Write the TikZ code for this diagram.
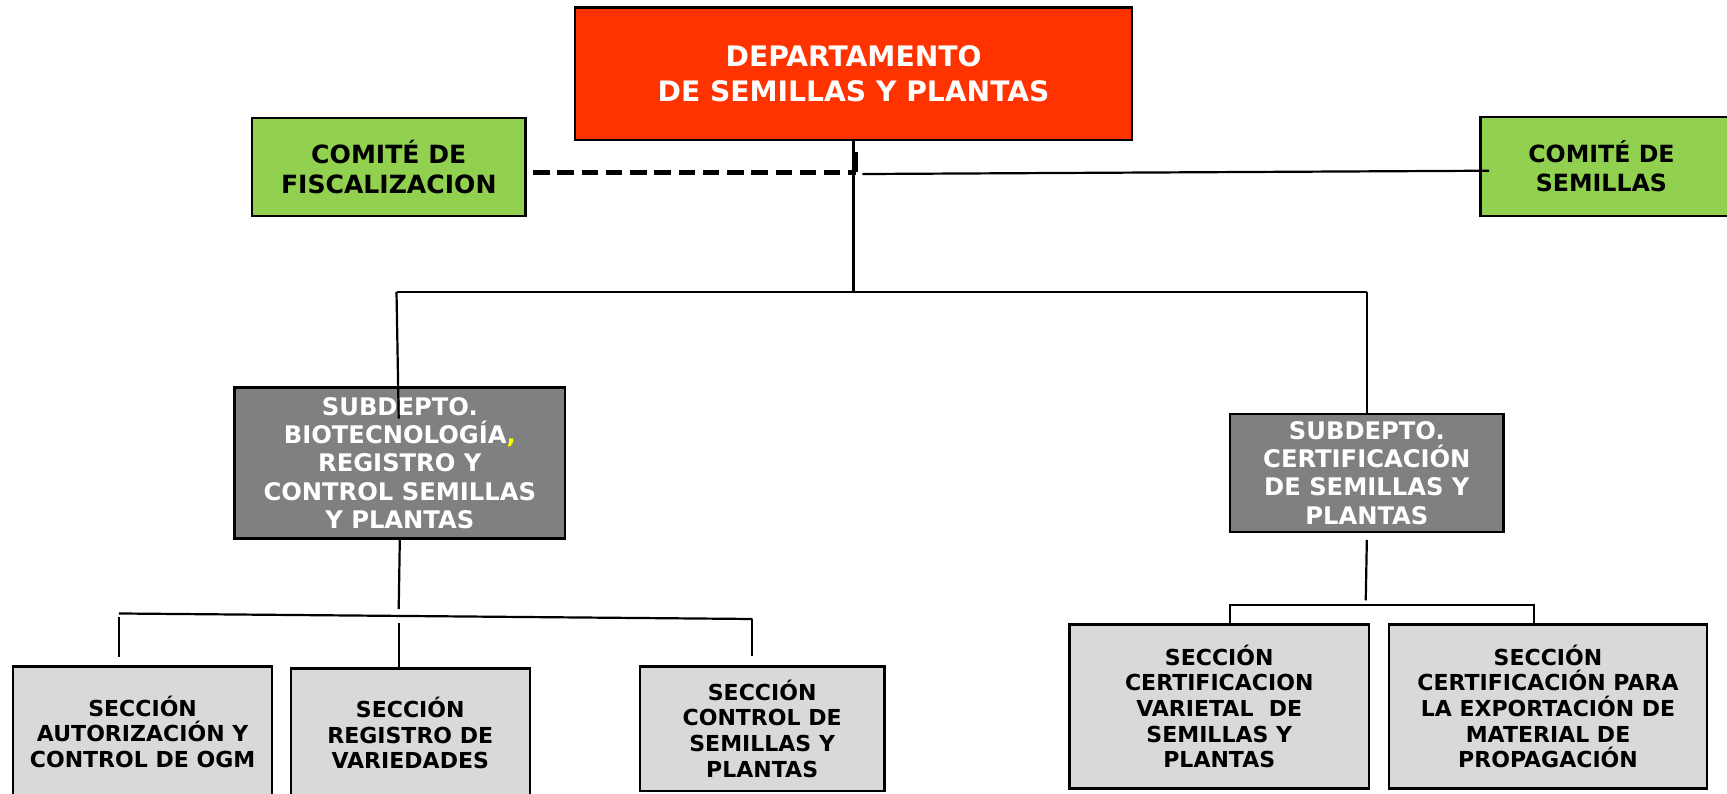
\documentclass[tikz,border=0pt]{standalone}
\usepackage{fontspec}
\setmainfont{DejaVu Sans}
\definecolor{depred}{HTML}{FF3300}
\definecolor{comgreen}{HTML}{92D050}
\definecolor{subgray}{HTML}{808080}
\definecolor{secgray}{HTML}{D9D9D9}
\definecolor{commayellow}{HTML}{FFFF00}
\tikzset{
  boxbase/.style={draw=black, line width=2.2bp, inner sep=0pt, align=center},
  depbox/.style={boxbase, fill=depred, text=white, font=\bfseries\fontsize{25.6bp}{31bp}\selectfont},
  combox/.style={boxbase, fill=comgreen, text=black, font=\bfseries\fontsize{21.5bp}{27bp}\selectfont},
  subbox/.style={boxbase, fill=subgray, text=white, font=\bfseries\fontsize{22bp}{25.5bp}\selectfont},
  secbox/.style={boxbase, fill=secgray, text=black, font=\bfseries\fontsize{20bp}{23.3bp}\selectfont},
  conn/.style={draw=black, line width=2bp},
  dashconn/.style={draw=black, line width=4.5bp, dash pattern=on 15bp off 7bp},
}
\begin{document}
\begin{tikzpicture}[x=1bp, y=-1bp]
\useasboundingbox (0,0) rectangle (1568,720);
\fill[white] (0,0) rectangle (1568,720);

% boxes
\node[depbox, minimum width=506bp, minimum height=120bp] (dep) at (775,67) {DEPARTAMENTO\\DE SEMILLAS Y PLANTAS};
\node[combox, font=\bfseries\fontsize{22.8bp}{27bp}\selectfont, minimum width=248bp, minimum height=89bp] (cf) at (353,151.5) {COMITÉ DE\\FISCALIZACION};
\node[combox, minimum width=236bp, minimum height=90bp] (cs) at (1462,151) {COMITÉ DE\kern16bp\\SEMILLAS\kern16bp};
\node[subbox, minimum width=300bp, minimum height=137bp] (sl) at (363,420.5) {SUBDEPTO.\\BIOTECNOLOGÍA{\color{commayellow},}\\REGISTRO Y\\CONTROL SEMILLAS\\Y PLANTAS};
\node[subbox, minimum width=248bp, minimum height=107bp] (sr) at (1241,429.5) {SUBDEPTO.\\CERTIFICACIÓN\\DE SEMILLAS Y\\PLANTAS};

\node[secbox, minimum width=235bp, minimum height=119bp] (s1) at (129.5,664.5) {SECCIÓN\\AUTORIZACIÓN Y\\CONTROL DE OGM};
\node[secbox, minimum width=217bp, minimum height=117bp] (s2) at (372.5,665.5) {SECCIÓN\\REGISTRO DE\\VARIEDADES};
\node[secbox, minimum width=222bp, minimum height=113bp] (s3) at (692,661.5) {SECCIÓN\\CONTROL DE\\SEMILLAS Y\\PLANTAS};
\node[secbox, minimum width=272bp, minimum height=149bp] (s4) at (1107,641.5) {SECCIÓN\\CERTIFICACION\\VARIETAL~ DE\\SEMILLAS Y\\PLANTAS};
\node[secbox, minimum width=289bp, minimum height=149bp] (s5) at (1405.5,641.5) {SECCIÓN\\CERTIFICACIÓN PARA\\LA EXPORTACIÓN DE\\MATERIAL DE\\PROPAGACIÓN};

% junction coordinates
\coordinate (jtop) at (775,265);
\coordinate (jl) at (360,265);
\coordinate (jr) at (1241,265);
\coordinate (slend) at (362,380);
\coordinate (dashend) at (777,157);
\coordinate (dashtick) at (777,138);
\coordinate (solstart) at (783,158);
\coordinate (solend) at (1352,155);

\coordinate (lltop) at (362,553);
\coordinate (llL) at (108,557);
\coordinate (llR) at (683,562);
\coordinate (ll1) at (108,560);
\coordinate (ll2) at (362,566);
\coordinate (ll3) at (683,562);

\coordinate (rrtop) at (1240,545);
\coordinate (rrL) at (1117,549);
\coordinate (rrR) at (1393,549);

% connectors
\draw[conn] (dep.south) -- (jtop);
\draw[conn] (jl) -- (jr);
\draw[conn] (jl) -- (slend);
\draw[conn] (jr) -- (sr.north);
\draw[dashconn] ([xshift=6bp]cf.east |- dashend) -- (dashend);
\draw[draw=black, line width=4bp] (dashtick) -- ([yshift=1bp]dashend);
\draw[conn] (solstart) -- (solend);

\draw[conn] (sl.south) -- (lltop);
\draw[conn] (llL) -- (llR);
\draw[conn] (ll1) -- ([yshift=7bp]s1.north -| ll1);
\draw[conn] (ll2) -- (s2.north -| ll2);
\draw[conn] (ll3) -- ([yshift=8bp]s3.north -| ll3);

\draw[conn] ([yshift=-6bp]sr.south) -- (rrtop);
\draw[conn] (rrL |- s4.north) -- (rrL) -- (rrR) -- (rrR |- s5.north);
\end{tikzpicture}
\end{document}
